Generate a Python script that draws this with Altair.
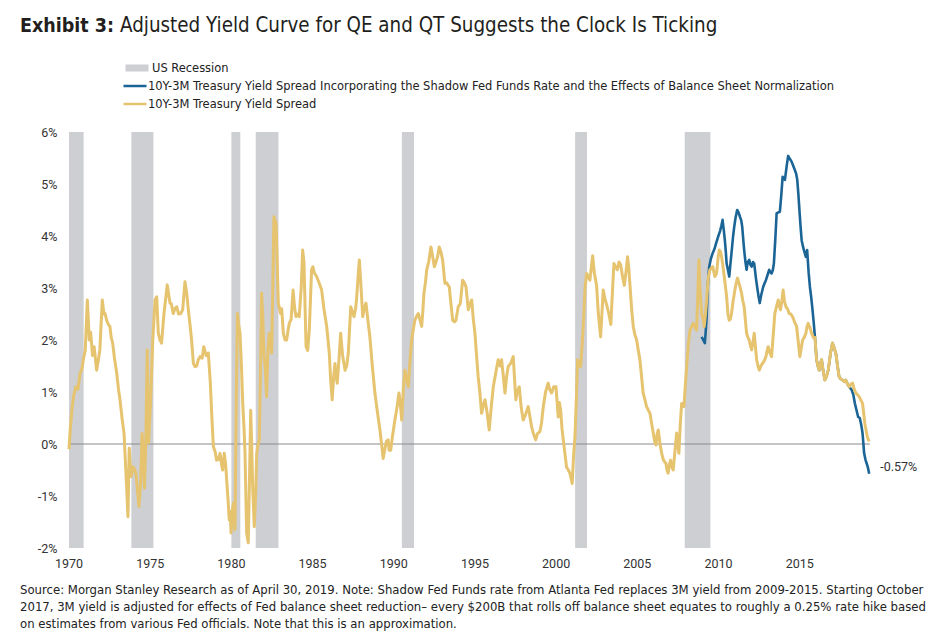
import altair as alt
import pandas as pd

# ---------------- data ----------------
SPREAD_NAME = "10Y-3M Treasury Yield Spread"
ADJ_NAME = "10Y-3M Treasury Yield Spread Incorporating the Shadow Fed Funds Rate and the Effects of Balance Sheet Normalization"
REC_NAME = "US Recession"

rec_start = [1969.92, 1973.84, 1980.0, 1981.5, 1990.5, 2001.17, 2007.92]
rec_end = [1970.9, 1975.2, 1980.55, 1982.9, 1991.25, 2001.9, 2009.5]

spread_year = [
    1970.0, 1970.08, 1970.2, 1970.3, 1970.43, 1970.55, 1970.68, 1970.8, 1970.88, 1971.0,
    1971.13, 1971.25, 1971.33, 1971.45, 1971.55, 1971.7, 1971.8, 1971.9, 1972.05, 1972.15,
    1972.22, 1972.32, 1972.42, 1972.52, 1972.6, 1972.69, 1972.8, 1972.94, 1973.05, 1973.14,
    1973.28, 1973.39, 1973.49, 1973.56, 1973.63, 1973.71, 1973.82, 1973.96, 1974.05, 1974.12,
    1974.22, 1974.31, 1974.41, 1974.5, 1974.58, 1974.65, 1974.74, 1974.82, 1974.9, 1975.03,
    1975.15, 1975.3, 1975.4, 1975.5, 1975.6, 1975.7, 1975.85, 1976.05, 1976.22, 1976.3,
    1976.42, 1976.52, 1976.63, 1976.75, 1976.88, 1977.0, 1977.14, 1977.25, 1977.35, 1977.45,
    1977.55, 1977.66, 1977.76, 1977.86, 1977.96, 1978.07, 1978.2, 1978.3, 1978.45, 1978.58,
    1978.7, 1978.8, 1978.89, 1979.0, 1979.09, 1979.2, 1979.3, 1979.4, 1979.46, 1979.56,
    1979.65, 1979.71, 1979.8, 1979.87, 1979.93, 1979.98, 1980.05, 1980.12, 1980.22, 1980.3,
    1980.37, 1980.45, 1980.53, 1980.62, 1980.7, 1980.78, 1980.84, 1980.94, 1981.04, 1981.12,
    1981.19, 1981.25, 1981.31, 1981.41, 1981.5, 1981.56, 1981.65, 1981.72, 1981.8, 1981.86,
    1981.93, 1982.0, 1982.08, 1982.17, 1982.25, 1982.33, 1982.4, 1982.48, 1982.55, 1982.62,
    1982.7, 1982.75, 1982.82, 1982.89, 1983.03, 1983.1, 1983.2, 1983.3, 1983.4, 1983.5,
    1983.57, 1983.68, 1983.8, 1983.9, 1983.98, 1984.08, 1984.18, 1984.3, 1984.39, 1984.47,
    1984.55, 1984.6, 1984.7, 1984.8, 1984.94, 1985.02, 1985.1, 1985.25, 1985.4, 1985.56,
    1985.7, 1985.87, 1986.03, 1986.12, 1986.21, 1986.3, 1986.38, 1986.45, 1986.52, 1986.62,
    1986.73, 1986.85, 1987.0, 1987.1, 1987.2, 1987.35, 1987.45, 1987.55, 1987.65, 1987.72,
    1987.8, 1987.88, 1987.95, 1988.09, 1988.18, 1988.29, 1988.4, 1988.53, 1988.68, 1988.84,
    1989.0, 1989.15, 1989.25, 1989.35, 1989.45, 1989.55, 1989.65, 1989.72, 1989.81, 1989.9,
    1990.07, 1990.2, 1990.32, 1990.4, 1990.49, 1990.6, 1990.69, 1990.8, 1990.9, 1991.0,
    1991.1, 1991.2, 1991.3, 1991.4, 1991.51, 1991.6, 1991.72, 1991.8, 1991.86, 1991.95,
    1992.03, 1992.15, 1992.29, 1992.4, 1992.5, 1992.6, 1992.7, 1992.8, 1992.9, 1993.01,
    1993.15, 1993.25, 1993.42, 1993.52, 1993.63, 1993.75, 1993.83, 1993.97, 1994.1, 1994.24,
    1994.35, 1994.45, 1994.59, 1994.7, 1994.8, 1994.9, 1995.0, 1995.1, 1995.2, 1995.3,
    1995.41, 1995.52, 1995.62, 1995.75, 1995.88, 1996.0, 1996.13, 1996.3, 1996.43, 1996.55,
    1996.64, 1996.75, 1996.85, 1996.95, 1997.05, 1997.2, 1997.36, 1997.45, 1997.52, 1997.6,
    1997.73, 1997.85, 1997.97, 1998.1, 1998.28, 1998.4, 1998.49, 1998.6, 1998.74, 1998.85,
    1999.0, 1999.1, 1999.21, 1999.35, 1999.51, 1999.6, 1999.72, 1999.85, 1999.99, 2000.13,
    2000.2, 2000.28, 2000.36, 2000.44, 2000.55, 2000.64, 2000.75, 2000.85, 2000.99, 2001.08,
    2001.16, 2001.25, 2001.32, 2001.42, 2001.51, 2001.6, 2001.67, 2001.78, 2001.88, 2002.0,
    2002.08, 2002.25, 2002.35, 2002.49, 2002.6, 2002.74, 2002.82, 2002.9, 2003.0, 2003.11,
    2003.25, 2003.37, 2003.48, 2003.56, 2003.67, 2003.77, 2003.87, 2003.97, 2004.1, 2004.2,
    2004.3, 2004.4, 2004.47, 2004.54, 2004.65, 2004.75, 2004.85, 2004.96, 2005.06, 2005.16,
    2005.26, 2005.36, 2005.47, 2005.57, 2005.68, 2005.78, 2005.88, 2005.98, 2006.07, 2006.15,
    2006.22, 2006.29, 2006.4, 2006.5, 2006.6, 2006.7, 2006.76, 2006.83, 2006.9, 2006.97,
    2007.05, 2007.13, 2007.21, 2007.3, 2007.42, 2007.49, 2007.56, 2007.65, 2007.73, 2007.8,
    2007.87, 2007.95, 2008.04, 2008.14, 2008.24, 2008.34, 2008.44, 2008.55, 2008.65, 2008.72,
    2008.79, 2008.86, 2008.96, 2009.06, 2009.12, 2009.2, 2009.27, 2009.37, 2009.47, 2009.57,
    2009.64, 2009.78, 2009.88, 2009.98, 2010.05, 2010.12, 2010.19, 2010.26, 2010.33, 2010.42,
    2010.5, 2010.58, 2010.66, 2010.73, 2010.8, 2010.9, 2011.01, 2011.09, 2011.17, 2011.3,
    2011.42, 2011.5, 2011.58, 2011.65, 2011.73, 2011.81, 2011.89, 2011.96, 2012.04, 2012.12,
    2012.2, 2012.28, 2012.35, 2012.43, 2012.51, 2012.61, 2012.71, 2012.82, 2012.92, 2013.0,
    2013.06, 2013.17, 2013.27, 2013.37, 2013.47, 2013.58, 2013.68, 2013.75, 2013.82, 2013.9,
    2013.98, 2014.06, 2014.15, 2014.25, 2014.35, 2014.45, 2014.56, 2014.68, 2014.81, 2014.9,
    2015.01, 2015.1, 2015.18, 2015.28, 2015.38, 2015.45, 2015.52, 2015.62, 2015.73, 2015.84,
    2015.94, 2016.04, 2016.12, 2016.2, 2016.28, 2016.35, 2016.45, 2016.55, 2016.65, 2016.76,
    2016.9, 2017.02, 2017.12, 2017.23, 2017.33, 2017.43, 2017.53, 2017.64, 2017.74, 2017.84,
    2017.95, 2018.05, 2018.15, 2018.26, 2018.36, 2018.46, 2018.56, 2018.66, 2018.76, 2018.87,
    2018.94, 2019.01, 2019.1, 2019.18, 2019.28,
]
spread_value = [
    -0.1, 0.3, 0.72, 0.95, 1.1, 1.05, 1.36, 1.45, 1.62, 1.8,
    2.77, 2.0, 2.15, 1.7, 1.87, 1.42, 1.6, 1.81, 2.77, 2.5,
    2.51, 2.38, 2.3, 2.26, 2.05, 1.94, 1.65, 1.36, 1.05, 0.85,
    0.46, 0.21, -0.44, -0.9, -1.4, -0.08, -0.63, -0.44, -0.5, -0.56,
    -0.9, -1.2, -0.75, 0.2, -0.3, -0.85, 0.21, 1.81, 0.02, 0.85,
    1.94, 2.77, 2.83, 2.13, 2.0, 1.94, 2.51, 3.06, 2.71, 2.7,
    2.51, 2.6, 2.64, 2.5, 2.51, 2.58, 3.12, 2.9, 2.58, 2.3,
    2.0, 1.55, 1.49, 1.5, 1.62, 1.68, 1.65, 1.87, 1.7, 1.75,
    1.2, 0.5, -0.05, -0.15, -0.31, -0.3, -0.18, -0.4, -0.5, -0.18,
    -0.4, -0.69, -1.1, -1.46, -1.3, -1.71, -1.3, -1.14, -1.65, 0.8,
    2.51, 2.3, 2.13, 1.5, 0.78, 0.3, -0.18, -1.71, -1.9, -0.6,
    0.65, 0.0, -0.82, -1.59, -0.9, -0.18, 0.0, 0.08, 1.5, 2.9,
    2.5, 1.75, 1.5, 0.91, 1.8, 2.13, 1.9, 1.75, 3.0, 4.37,
    4.3, 4.24, 3.5, 2.71, 2.51, 2.6, 2.13, 2.0, 2.0, 2.2,
    2.32, 2.4, 2.96, 2.6, 2.45, 2.5, 2.45, 3.0, 3.73, 3.5,
    2.5, 1.87, 1.8, 2.2, 3.35, 3.41, 3.3, 3.22, 3.1, 2.96,
    2.6, 2.26, 1.75, 1.2, 0.85, 1.3, 1.55, 1.3, 1.17, 1.6,
    2.13, 1.7, 1.42, 1.5, 1.75, 2.64, 2.55, 2.45, 2.6, 2.83,
    3.2, 3.54, 3.2, 2.45, 2.6, 2.71, 2.4, 2.06, 1.5, 0.98,
    0.6, 0.27, 0.0, -0.28, -0.1, 0.05, 0.08, -0.12, -0.12, 0.1,
    0.46, 0.7, 0.98, 0.8, 0.46, 1.1, 1.42, 1.25, 1.1, 1.6,
    2.0, 2.2, 2.38, 2.45, 2.51, 2.4, 2.26, 2.6, 2.9, 3.1,
    3.35, 3.5, 3.79, 3.6, 3.41, 3.5, 3.6, 3.79, 3.7, 3.54,
    3.09, 3.1, 3.02, 2.7, 2.38, 2.35, 2.38, 2.64, 2.7, 3.15,
    3.1, 3.02, 2.58, 2.7, 2.77, 2.4, 2.13, 1.7, 1.29, 1.0,
    0.59, 0.75, 0.85, 0.6, 0.27, 0.7, 1.1, 1.4, 1.62, 1.5,
    1.62, 1.3, 0.98, 1.3, 1.49, 1.55, 1.68, 1.2, 0.85, 1.0,
    1.1, 0.7, 0.46, 0.55, 0.72, 0.5, 0.33, 0.2, 0.08, 0.2,
    0.24, 0.4, 0.72, 1.0, 1.17, 1.05, 0.98, 1.1, 1.1, 0.52,
    0.8, 0.65, 0.3, 0.08, -0.2, -0.44, -0.5, -0.56, -0.76, -0.2,
    0.14, 0.9, 1.62, 1.5, 1.49, 1.9, 2.26, 3.0, 3.28, 3.2,
    3.15, 3.62, 3.3, 3.05, 2.5, 2.06, 2.5, 2.96, 2.8, 2.68,
    2.5, 2.3, 3.0, 3.47, 3.4, 3.35, 3.5, 3.45, 3.2, 3.05,
    3.3, 3.6, 3.4, 3.09, 2.6, 2.26, 2.1, 2.0, 1.8, 1.62,
    1.3, 0.98, 0.85, 0.72, 0.65, 0.59, 0.4, 0.21, 0.05, -0.02,
    0.2, 0.27, 0.0, -0.18, -0.3, -0.35, -0.37, -0.5, -0.56, -0.4,
    -0.31, -0.45, -0.5, -0.2, 0.21, 0.0, -0.18, 0.4, 0.78, 0.75,
    0.72, 1.1, 1.49, 1.9, 2.19, 2.25, 2.32, 2.25, 2.19, 2.8,
    3.54, 3.0, 2.51, 2.4, 2.26, 2.5, 2.77, 3.2, 3.35, 3.38,
    3.41, 3.22, 3.28, 3.6, 3.73, 3.7, 3.6, 3.45, 3.28, 3.05,
    2.83, 2.5, 2.38, 2.4, 2.51, 2.75, 2.96, 3.1, 3.19, 3.05,
    2.9, 2.75, 2.64, 2.4, 2.13, 2.05, 2.0, 1.9, 1.81, 1.95,
    2.13, 1.85, 1.62, 1.5, 1.42, 1.5, 1.55, 1.6, 1.68, 1.8,
    1.87, 1.75, 1.68, 2.1, 2.51, 2.65, 2.77, 2.65, 2.58, 2.75,
    2.96, 2.75, 2.64, 2.6, 2.51, 2.5, 2.45, 2.35, 2.26, 2.0,
    1.68, 1.85, 2.0, 2.05, 2.13, 2.25, 2.32, 2.25, 2.13, 2.05,
    2.05, 1.62, 1.5, 1.42, 1.55, 1.62, 1.4, 1.23, 1.3, 1.42,
    1.75, 1.94, 1.85, 1.74, 1.5, 1.29, 1.25, 1.23, 1.2, 1.23,
    1.15, 1.1, 1.15, 1.17, 1.05, 0.98, 0.95, 0.91, 0.85, 0.78,
    0.6, 0.4, 0.25, 0.12, 0.05,
]

adj_year = [
    2008.96, 2009.06, 2009.16, 2009.22, 2009.27, 2009.35, 2009.43, 2009.52, 2009.64, 2009.75,
    2009.85, 2009.98, 2010.1, 2010.18, 2010.25, 2010.33, 2010.39, 2010.45, 2010.5, 2010.58,
    2010.66, 2010.73, 2010.8, 2010.9, 2010.97, 2011.05, 2011.15, 2011.24, 2011.32, 2011.4,
    2011.46, 2011.52, 2011.58, 2011.66, 2011.73, 2011.8, 2011.89, 2011.96, 2012.04, 2012.12,
    2012.2, 2012.3, 2012.38, 2012.46, 2012.54, 2012.62, 2012.75, 2012.85, 2012.92, 2013.02,
    2013.12, 2013.2, 2013.27, 2013.35, 2013.41, 2013.5, 2013.58, 2013.68, 2013.78, 2013.87,
    2013.95, 2014.02, 2014.09, 2014.2, 2014.29, 2014.4, 2014.5, 2014.6, 2014.7, 2014.78,
    2014.85, 2014.92, 2014.97, 2015.05, 2015.12, 2015.2, 2015.26, 2015.33, 2015.38, 2015.46,
    2015.55, 2015.63, 2015.7, 2015.77, 2015.86, 2015.94, 2016.04, 2016.12, 2016.2, 2016.28,
    2016.35, 2016.45, 2016.55, 2016.65, 2016.76, 2016.9, 2017.02, 2017.12, 2017.23, 2017.33,
    2017.43, 2017.53, 2017.64, 2017.74, 2017.84, 2017.95, 2018.05, 2018.2, 2018.3, 2018.4,
    2018.5, 2018.6, 2018.7, 2018.8, 2018.87, 2018.97, 2019.05, 2019.12, 2019.2, 2019.28,
]
adj_value = [
    2.06, 2.0, 1.94, 2.2, 2.45, 3.1, 3.41, 3.55, 3.67, 3.75,
    3.86, 3.99, 4.1, 4.2, 4.31, 4.1, 3.92, 3.7, 3.47, 3.35,
    3.22, 3.45, 3.67, 4.0, 4.18, 4.35, 4.5, 4.45, 4.37, 4.3,
    4.18, 3.95, 3.73, 3.5, 3.35, 3.5, 3.54, 3.45, 3.41, 3.5,
    3.47, 3.2, 3.02, 2.85, 2.71, 2.85, 3.02, 3.1, 3.15, 3.25,
    3.35, 3.3, 3.28, 3.35, 3.47, 3.95, 4.44, 4.45, 4.47, 4.8,
    5.14, 5.1, 5.08, 5.35, 5.54, 5.48, 5.43, 5.35, 5.27, 5.2,
    5.08, 4.8, 4.56, 4.2, 3.92, 3.8, 3.73, 3.65, 3.6, 3.73,
    3.3, 3.02, 2.85, 2.64, 2.35, 2.05, 1.62, 1.5, 1.42, 1.55,
    1.62, 1.4, 1.23, 1.3, 1.42, 1.75, 1.94, 1.85, 1.74, 1.5,
    1.29, 1.25, 1.23, 1.2, 1.23, 1.15, 1.1, 1.04, 0.95, 0.78,
    0.65, 0.52, 0.5, 0.35, 0.21, -0.18, -0.3, -0.37, -0.45, -0.57,
]

x_ticks = [1970, 1975, 1980, 1985, 1990, 1995, 2000, 2005, 2010, 2015]
y_ticks = [-2, -1, 0, 1, 2, 3, 4, 5, 6]

title_bold = "Exhibit 3:"
title_rest = "Adjusted Yield Curve for QE and QT Suggests the Clock Is Ticking"
footnote = [
    "Source: Morgan Stanley Research as of April 30, 2019. Note: Shadow Fed Funds rate from Atlanta Fed replaces 3M yield from 2009-2015. Starting October",
    "2017, 3M yield is adjusted for effects of Fed balance sheet reduction\u2013 every $200B that rolls off balance sheet equates to roughly a 0.25% rate hike based",
    "on estimates from various Fed officials. Note that this is an approximation.",
]

# ---------------- styling ----------------
GRAY = "#cdcfd2"
BLUE = "#1b6596"
GOLD = "#e6c36e"
NARROW = "DejaVu Sans Condensed, Roboto, sans-serif"
AXISFONT = "Roboto, Liberation Sans, sans-serif"

W, H = 801, 416
LEFT, TOP = 69, 132
X_DOMAIN = [1970, 2019.33]

rec_df = pd.DataFrame({"start": rec_start, "end": rec_end, "series": REC_NAME})
spread_df = pd.DataFrame({"year": spread_year, "value": spread_value, "series": SPREAD_NAME})
adj_df = pd.DataFrame({"year": adj_year, "value": adj_value, "series": ADJ_NAME})
last_df = adj_df.tail(1).copy()
last_df["label"] = last_df["value"].map(lambda v: f"{v:.2f}%")
xtick_df = pd.DataFrame({"year": x_ticks, "label": [str(t) for t in x_ticks]})

xscale = alt.Scale(domain=X_DOMAIN, nice=False, zero=False)
yscale = alt.Scale(domain=[-2, 6], nice=False, zero=False)

common_legend = dict(
    title=None, orient="none", direction="vertical", symbolType="stroke", symbolSize=529,
    clipHeight=14, rowPadding=4, labelFont=NARROW, labelFontSize=12.75, labelColor="#222",
    labelLimit=900, labelOffset=0, padding=0,
)
rec_legend = alt.Legend(legendX=122 - LEFT, legendY=-71, symbolStrokeWidth=7,
                        symbolStrokeColor=GRAY, **common_legend)
line_legend = alt.Legend(legendX=122 - LEFT, legendY=-53, symbolStrokeWidth=2.5,
                         values=[ADJ_NAME, SPREAD_NAME], **common_legend)

fill_enc = alt.Fill("series:N", scale=alt.Scale(domain=[REC_NAME], range=[GRAY]), legend=rec_legend)
stroke_enc = alt.Stroke("series:N", scale=alt.Scale(domain=[ADJ_NAME, SPREAD_NAME], range=[BLUE, GOLD]),
                        legend=line_legend)

y_axis = alt.Axis(values=y_ticks, labelExpr="datum.value + '%'", domain=False, ticks=False,
                  grid=False, title=None, labelFont=AXISFONT, labelFontSize=12.5,
                  labelColor="#333", labelPadding=12, labelFlush=False)

# x tick labels are drawn as a text layer placed through the x scale (centred on each tick)
X_YEAR = alt.X("year:Q", scale=xscale, axis=None, title=None)
Y_VAL = alt.Y("value:Q", scale=yscale, axis=y_axis, title=None)

rects = alt.Chart(rec_df).mark_rect(clip=True, opacity=1).encode(
    x=alt.X("start:Q", scale=xscale, axis=None, title=None),
    x2="end:Q",
    fill=fill_enc,
)

zero = alt.Chart(pd.DataFrame({"value": [0]})).mark_rule(color="#8a8a8a", strokeWidth=1).encode(
    y=Y_VAL
)

adj_line = alt.Chart(adj_df).mark_line(strokeWidth=2.6, strokeJoin="round").encode(
    x=X_YEAR, y=Y_VAL, stroke=stroke_enc,
)

spread_line = alt.Chart(spread_df).mark_line(strokeWidth=3, strokeJoin="round").encode(
    x=X_YEAR, y=Y_VAL, stroke=stroke_enc,
)

xtick_labels = alt.Chart(xtick_df).mark_text(
    align="center", baseline="top", font=AXISFONT, fontSize=12.5, color="#333"
).encode(x=X_YEAR, y=alt.value(H + 10), text="label:N")

end_label = alt.Chart(last_df).mark_text(
    align="left", baseline="middle", dx=11, dy=-7, font=AXISFONT, fontSize=12.5, color="#333"
).encode(x=X_YEAR, y=Y_VAL, text="label:N")

one = pd.DataFrame({"a": [0]})
t_bold = alt.Chart(one).mark_text(
    align="left", baseline="alphabetic", font=NARROW, fontSize=19.5, fontWeight="bold", color="#231f20"
).encode(x=alt.value(20 - LEFT), y=alt.value(32 - TOP), text=alt.value(title_bold))
t_rest = alt.Chart(one).mark_text(
    align="left", baseline="alphabetic", font=NARROW, fontSize=20.4, color="#231f20"
).encode(x=alt.value(120 - LEFT), y=alt.value(32 - TOP), text=alt.value(title_rest))
foot = alt.Chart(one).mark_text(
    align="left", baseline="top", font=NARROW, fontSize=13, lineHeight=17, color="#222"
).encode(x=alt.value(20 - LEFT), y=alt.value(584 - TOP), text=alt.value(footnote))

chart = alt.layer(
    rects, zero, adj_line, spread_line, xtick_labels, end_label, t_bold, t_rest, foot
).properties(
    width=W, height=H,
    autosize=alt.AutoSizeParams(type="none"),
    padding={"left": LEFT, "top": TOP, "right": 946 - LEFT - W, "bottom": 637 - TOP - H},
).configure(background="white").configure_view(strokeWidth=0, stroke="transparent")

chart.save("out.html", embed_options={"renderer": "svg", "actions": False})
